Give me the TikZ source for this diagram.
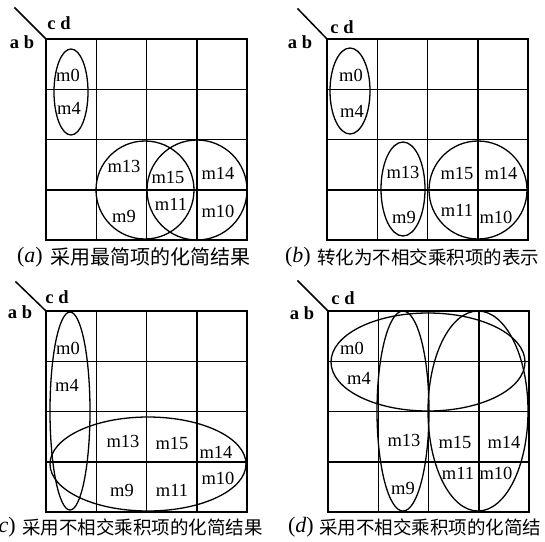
\documentclass[tikz,border=0pt]{standalone}
\usepackage{fontspec}
\setmainfont{Liberation Serif}
\newfontfamily\cjk{Noto Sans CJK SC}
\newcommand{\kmapgrid}[2]{%
  \begin{scope}[shift={(#1,#2)}]
    \foreach \i in {0,1,2,3,4} {
      \draw[gridline] (\i*50.25,0) -- (\i*50.25,201);
      \draw[gridline] (0,\i*50.25) -- (201,\i*50.25);
    }
  \end{scope}}
\begin{document}
\begin{tikzpicture}[x=1pt,y=-1pt,
  gridline/.style={line width=1.5pt, line cap=rect},
  ring/.style={line width=1.3pt},
  lab/.style={inner sep=0pt, font=\fontsize{18.5}{20}\selectfont},
  head/.style={inner sep=0pt, font=\fontsize{18.5}{20}\selectfont\bfseries},
  capcjk/.style={inner sep=0pt, anchor=west, font=\fontsize{18.5}{20}\selectfont\cjk},
  caplab/.style={inner sep=0pt, anchor=east, font=\fontsize{22}{22}\selectfont}]
\useasboundingbox (0,0) rectangle (545,541);
\clip (0,0) rectangle (545,541);

% ---------- (a) ----------
\kmapgrid{46}{39}
\coordinate (ca) at (46,39);
\coordinate (da) at (15,8);
\draw[gridline] (da) -- (ca);
\node[head] (cda) at (59,23) {c d};
\node[head] (aba) at (22,42) {a b};
\draw[ring] (71,92) ellipse [x radius=17pt, y radius=43pt];
\draw[ring] (145,190) circle [radius=49pt];
\draw[ring] (197,190) circle [radius=50pt];
\node[lab] (a0) at (68,75) {m0};
\node[lab] (a4) at (69,108) {m4};
\node[lab] (a13) at (124,166) {m13};
\node[lab] (a15) at (168,177) {m15};
\node[lab] (a14) at (218,173) {m14};
\node[lab] (a9) at (124,216) {m9};
\node[lab] (a11) at (171,204) {m11};
\node[lab] (a10) at (218,211) {m10};
\node[capcjk, font=\fontsize{20}{22}\selectfont\cjk] (capa) at (50,257) {采用最简项的化简结果};
\node[caplab] (capla) at ([xshift=-7pt]capa.west) {(\textit{a})};

% ---------- (b) ----------
\kmapgrid{327}{39}
\coordinate (cb) at (327,39);
\coordinate (db) at (298,9);
\draw[gridline] (db) -- (cb);
\node[head] (cdb) at (342,27) {c d};
\node[head] (abb) at (300,42) {a b};
\draw[ring] (350,91) ellipse [x radius=20pt, y radius=43pt];
\draw[ring] (403,189) ellipse [x radius=22pt, y radius=47pt];
\draw[ring] (478,190) circle [radius=49pt];
\node[lab] (b0) at (351,75) {m0};
\node[lab] (b4) at (352,111) {m4};
\node[lab] (b13) at (403,172) {m13};
\node[lab] (b9) at (404,217) {m9};
\node[lab] (b15) at (457,173) {m15};
\node[lab] (b14) at (501,173) {m14};
\node[lab] (b11) at (457,210) {m11};
\node[lab] (b10) at (496,217) {m10};
\node[capcjk] (capb) at (317,257) {转化为不相交乘积项的表示};
\node[caplab] (caplb) at ([xshift=-6pt]capb.west) {(\textit{b})};

% ---------- (c) ----------
\kmapgrid{46}{311}
\coordinate (cc) at (46,311);
\coordinate (dc) at (16,282);
\draw[gridline] (dc) -- (cc);
\node[head] (cdc) at (57,297) {c d};
\node[head] (abc) at (20,312) {a b};
\draw[ring] (70,411) ellipse [x radius=20pt, y radius=99pt];
\draw[ring] (148,464) ellipse [x radius=98pt, y radius=47pt];
\node[lab] (c0) at (68,348) {m0};
\node[lab] (c4) at (67,385) {m4};
\node[lab] (c13) at (123,441) {m13};
\node[lab] (c15) at (172,443) {m15};
\node[lab] (c14) at (216,452) {m14};
\node[lab] (c9) at (122,490) {m9};
\node[lab] (c11) at (172,490) {m11};
\node[lab] (c10) at (218,478) {m10};
\node[capcjk] (capc) at (22,527) {采用不相交乘积项的化简结果};
\node[caplab] (caplc) at ([xshift=-6pt]capc.west) {(\textit{c})};

% ---------- (d) ----------
\kmapgrid{328}{311}
\coordinate (cdd) at (328,311);
\coordinate (ddd) at (298,281);
\draw[gridline] (ddd) -- (cdd);
\node[head] (cdd2) at (343,298) {c d};
\node[head] (abd) at (302,313) {a b};
\draw[ring] (428,362) ellipse [x radius=97pt, y radius=49pt];
\draw[ring] (403,411) ellipse [x radius=26pt, y radius=100pt];
\draw[ring] (478,411) ellipse [x radius=50pt, y radius=100pt];
\node[lab] (d0) at (352,348) {m0};
\node[lab] (d4) at (359,378) {m4};
\node[lab] (d13) at (404,440) {m13};
\node[lab] (d15) at (455,442) {m15};
\node[lab] (d14) at (504,442) {m14};
\node[lab] (d11) at (458,473) {m11};
\node[lab] (d10) at (496,473) {m10};
\node[lab] (d9) at (403,488) {m9};
\node[capcjk] (capd) at (319,527) {采用不相交乘积项的化简结};
\node[caplab] (capld) at ([xshift=-5pt]capd.west) {(\textit{d})};
\end{tikzpicture}
\end{document}
